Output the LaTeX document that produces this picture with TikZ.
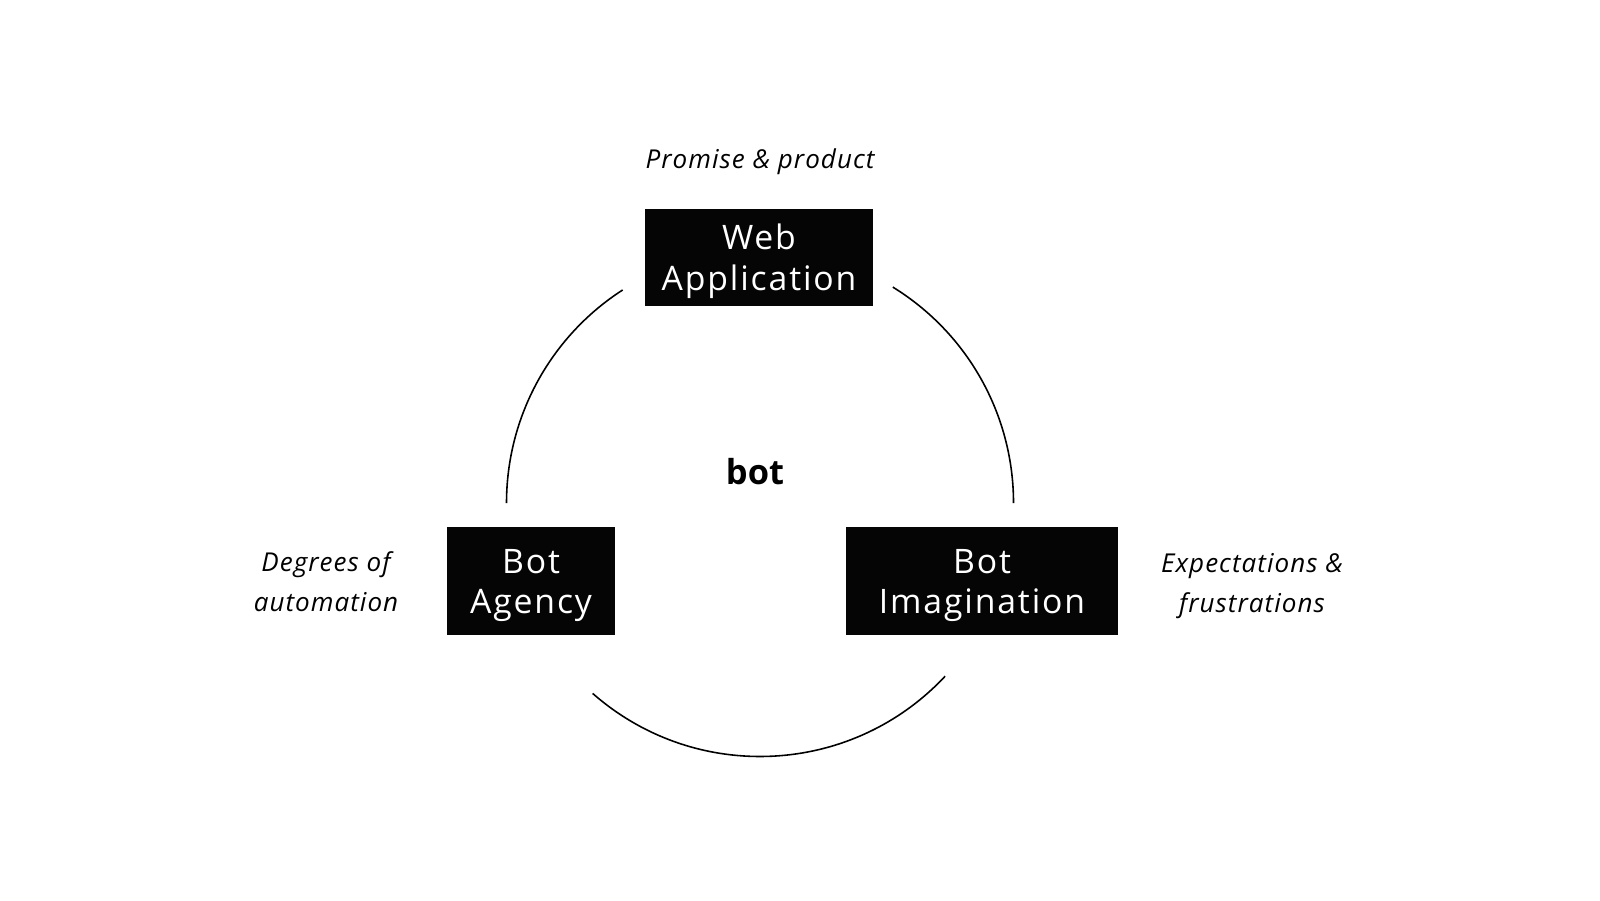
\documentclass[tikz,border=0pt]{standalone}
\usepackage{fontspec}
\setmainfont{Open Sans}
\newfontfamily\boxfont[LetterSpace=5.5]{Open Sans}
\newfontfamily\labfont[LetterSpace=4]{Open Sans}
\newcommand{\topstrut}{\rule{0pt}{9.4pt}}
\begin{document}
\begin{tikzpicture}[
  x=1cm,y=1cm,
  blackbox/.style={fill=black!98, text=white, inner sep=0pt, align=center,
    font=\boxfont\fontsize{9.6}{11.4}\selectfont},
  sidelabel/.style={align=center, inner sep=0pt,
    font=\labfont\itshape\fontsize{7.4}{11.4}\selectfont},
  ring/.style={line width=0.45pt}
]
\useasboundingbox (0,0) rectangle (16,-9);
\fill[white] (0,0) rectangle (16,-9);
\coordinate (c) at (7.60,-5.03);
\node[blackbox, minimum width=2.28cm, minimum height=0.97cm] (web) at (7.59,-2.575) {\topstrut Web\\Application};
\node[blackbox, minimum width=1.68cm, minimum height=1.08cm] (agency) at (5.31,-5.81) {\topstrut Bot\\Agency};
\node[blackbox, minimum width=2.72cm, minimum height=1.08cm] (imag) at (9.82,-5.81) {\topstrut Bot\\Imagination};
\node[sidelabel] (promise) at (7.60,-1.62) {Promise \& product};
\node[sidelabel] (degrees) at (3.26,-5.82) {Degrees of\\automation};
\node[sidelabel] (expect) at (12.52,-5.86) {Expectations \&\\frustrations};
\node[font=\bfseries\fontsize{9.8}{12}\selectfont, inner sep=0pt] (bot) at (7.55,-4.715) {bot};
\draw[ring] ([shift={(122.8:2.535)}]c) arc[start angle=122.8, end angle=180, radius=2.535];
\draw[ring] ([shift={(58.4:2.535)}]c) arc[start angle=58.4, end angle=0, radius=2.535];
\draw[ring] ([shift={(228.7:2.535)}]c) arc[start angle=228.7, end angle=316.9, radius=2.535];
\end{tikzpicture}
\end{document}
